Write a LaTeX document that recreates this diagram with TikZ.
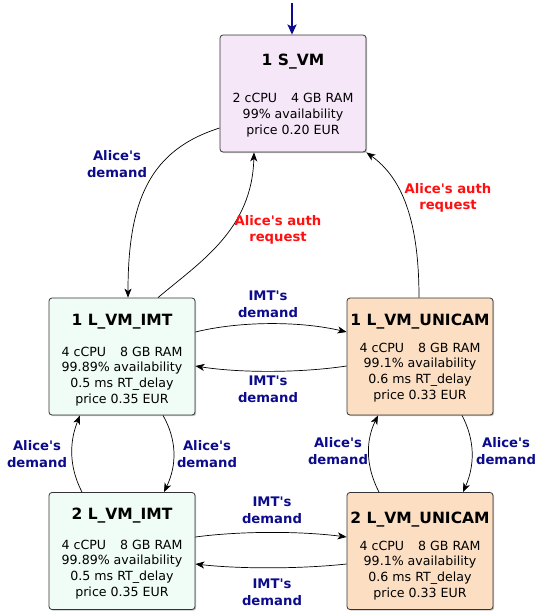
\documentclass[tikz,border=0pt]{standalone}
\usepackage{fontspec}
\setmainfont{DejaVu Sans}
\usetikzlibrary{arrows.meta,shadows}
\definecolor{svmfill}{HTML}{F5E6F8}
\definecolor{imtfill}{HTML}{EFFDF6}
\definecolor{unifill}{HTML}{FCDFC3}
\definecolor{lblblue}{HTML}{0B0B8C}
\definecolor{lblred}{HTML}{FF1010}
\tikzset{
  vmbox/.style={draw=black!80, line width=0.8pt, rounded corners=3pt,
    minimum width=146pt, minimum height=117pt, inner sep=0pt,
    drop shadow={shadow xshift=1.2pt, shadow yshift=-1.2pt, opacity=0.45}},
  ttl/.style={font=\fontsize{15.5}{18}\selectfont\bfseries, inner sep=0pt},
  body/.style={font=\fontsize{12.6}{15.9}\selectfont, align=center, inner sep=0pt},
  lbl/.style={font=\fontsize{13.2}{16.7}\selectfont\bfseries, align=center, inner sep=0pt, text=lblblue},
  rlbl/.style={lbl, text=lblred},
  conn/.style={draw=black, line width=0.7pt, -{Stealth[length=9pt,width=7pt,inset=2.5pt]}},
}
\newcommand{\gapx}{\hspace{14pt}}
\newcommand{\aq}{\textquotesingle}
\begin{document}
\begin{tikzpicture}[x=1pt,y=-1pt]
\useasboundingbox (0,0) rectangle (537,611);
% boxes
\node[vmbox, fill=svmfill] (svm) at (293,93.5) {};
\node[vmbox, fill=imtfill] (imt1) at (122,356.5) {};
\node[vmbox, fill=unifill] (uni1) at (420,356.5) {};
\node[vmbox, fill=imtfill] (imt2) at (122,551) {};
\node[vmbox, fill=unifill] (uni2) at (420,551) {};
% texts
\node[ttl] (svmt) at (293,62) {1 S\_VM};
\node[body] (svmb) at (293,115.5) {2 cCPU\gapx 4 GB RAM\\99\% availability\\price 0.20 EUR};
\node[ttl] (imt1t) at (122,322) {1 L\_VM\_IMT};
\node[body] (imt1b) at (122,376.5) {4 cCPU\gapx 8 GB RAM\\99.89\% availability\\0.5 ms RT\_delay\\price 0.35 EUR};
\node[ttl] (uni1t) at (420,322) {1 L\_VM\_UNICAM};
\node[body] (uni1b) at (420,372.5) {4 cCPU\gapx 8 GB RAM\\99.1\% availability\\0.6 ms RT\_delay\\price 0.33 EUR};
\node[ttl] (imt2t) at (122,515.5) {2 L\_VM\_IMT};
\node[body] (imt2b) at (122,569.5) {4 cCPU\gapx 8 GB RAM\\99.89\% availability\\0.5 ms RT\_delay\\price 0.35 EUR};
\node[ttl] (uni2t) at (420,519.5) {2 L\_VM\_UNICAM};
\node[body] (uni2b) at (420,570.5) {4 cCPU\gapx 8 GB RAM\\99.1\% availability\\0.6 ms RT\_delay\\price 0.33 EUR};
% entry arrow
\coordinate (entry) at (292,3);
\draw[draw=lblblue, line width=1.8pt, -{Stealth[length=10pt,width=9pt,inset=2pt]}] (entry) -- (svm.north -| entry);
% svm -> imt1
\draw[conn] (svm.west |- 0,128) .. controls (150,150) and (128,200) .. (imt1.north -| 128,0);
\node[lbl] (l1) at (117,164) {Alice\aq s\\demand};
% imt1 -> svm
\draw[conn] (imt1.north -| 158,0) .. controls (200,262) and (252,230) .. (svm.south -| 254,0);
\node[rlbl] (l2) at (278,230) {Alice\aq s auth\\request};
% uni1 -> svm
\draw[conn] (uni1.north -| 419,0) .. controls (419,220) and (402,178) .. (svm.south east);
\node[rlbl] (l3) at (448,198) {Alice\aq s auth\\request};
% imt1 <-> uni1
\draw[conn] (imt1.east |- 0,332) .. controls (240,321) and (300,321) .. (uni1.west |- 0,332);
\node[lbl] (l4) at (268,304) {IMT\aq s\\demand};
\draw[conn] (uni1.west |- 0,366) .. controls (300,373) and (240,373) .. (imt1.east |- 0,366);
\node[lbl] (l5) at (268,389) {IMT\aq s\\demand};
% imt2 <-> uni2
\draw[conn] (imt2.east |- 0,537) .. controls (240,531) and (300,531) .. (uni2.west |- 0,537);
\node[lbl] (l6) at (272,510) {IMT\aq s\\demand};
\draw[conn] (uni2.west |- 0,564) .. controls (300,569) and (240,569) .. (imt2.east |- 0,564);
\node[lbl] (l7) at (272,592) {IMT\aq s\\demand};
% imt vertical
\draw[conn] (imt2.north -| 82,0) .. controls (68,465) and (70,440) .. (imt1.south -| 80,0);
\node[lbl] (l8) at (37,454) {Alice\aq s\\demand};
\draw[conn] (imt1.south -| 163,0) .. controls (177,440) and (177,465) .. (imt2.north -| 164,0);
\node[lbl] (l9) at (207,454) {Alice\aq s\\demand};
% uni vertical
\draw[conn] (uni2.north -| 379,0) .. controls (365,465) and (366,440) .. (uni1.south -| 378,0);
\node[lbl] (l10) at (338,451) {Alice\aq s\\demand};
\draw[conn] (uni1.south -| 462,0) .. controls (475,440) and (475,465) .. (uni2.north -| 463,0);
\node[lbl] (l11) at (506,451) {Alice\aq s\\demand};
\end{tikzpicture}
\end{document}
